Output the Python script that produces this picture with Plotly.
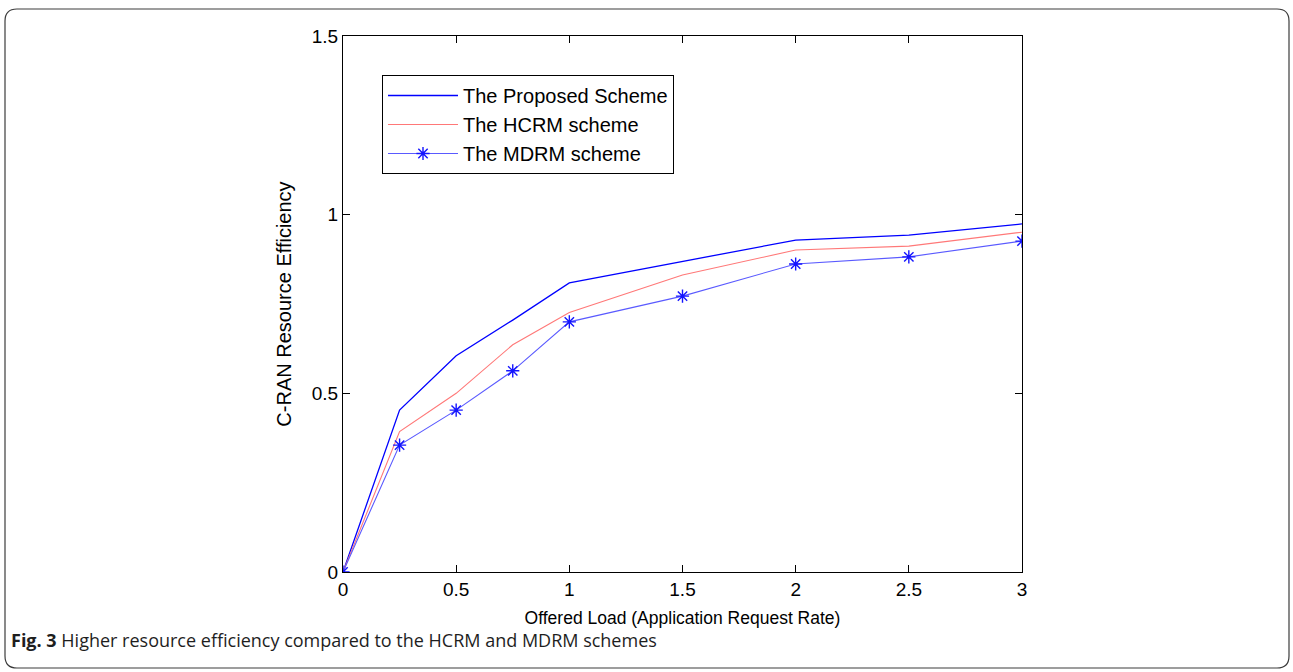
import plotly.graph_objects as go

# ---- data ----
offered_load = [0, 0.25, 0.5, 0.75, 1, 1.5, 2, 2.5, 3]
proposed = [0, 0.453, 0.605, 0.705, 0.809, 0.870, 0.929, 0.943, 0.974]
hcrm = [0, 0.393, 0.500, 0.636, 0.726, 0.831, 0.901, 0.912, 0.951]
mdrm = [0, 0.355, 0.453, 0.563, 0.700, 0.772, 0.862, 0.882, 0.926]

x_ticks = [0, 0.5, 1, 1.5, 2, 2.5, 3]
x_tick_labels = ["0", "0.5", "1", "1.5", "2", "2.5", "3"]
y_ticks = [0, 0.5, 1, 1.5]
y_tick_labels = ["0", "0.5", "1", "1.5"]

W, H = 1293, 672
L, R, T, B = 343, 1022, 36, 572  # plot area in pixels
PW, PH = R - L, B - T


def px(x):
    return (x - L) / PW


def py(y):
    return (B - y) / PH


FONT = "Liberation Sans, Arial, Helvetica, sans-serif"

fig = go.Figure()
fig.add_trace(go.Scatter(
    x=offered_load, y=proposed, mode="lines", name="The Proposed Scheme",
    line=dict(color="rgb(0,0,255)", width=1.3), legendgroup="a"))
fig.add_trace(go.Scatter(
    x=offered_load, y=hcrm, mode="lines", name="The HCRM scheme",
    line=dict(color="rgb(255,120,120)", width=1.1), legendgroup="b"))
fig.add_trace(go.Scatter(
    x=offered_load, y=mdrm, mode="lines+markers", name="The MDRM scheme",
    line=dict(color="rgb(90,90,255)", width=1.1),
    marker=dict(symbol="asterisk-open", size=11, color="rgb(20,20,255)",
                line=dict(color="rgb(20,20,255)", width=1.4)),
    legendgroup="c"))

# rounded outer frame
x0, x1 = px(5), px(1289)
y0, y1 = py(668), py(9)
rx, ry = 12 / PW, 12 / PH
path = (f"M {x0+rx},{y1} L {x1-rx},{y1} Q {x1},{y1} {x1},{y1-ry} "
        f"L {x1},{y0+ry} Q {x1},{y0} {x1-rx},{y0} "
        f"L {x0+rx},{y0} Q {x0},{y0} {x0},{y0+ry} "
        f"L {x0},{y1-ry} Q {x0},{y1} {x0+rx},{y1} Z")

fig.update_layout(
    width=W, height=H,
    margin=dict(l=L, r=W - R, t=T, b=H - B),
    paper_bgcolor="white", plot_bgcolor="white",
    font=dict(family=FONT, size=18, color="black"),
    showlegend=True,
    legend=dict(x=px(382), y=py(75), xanchor="left", yanchor="top",
                bgcolor="white", bordercolor="black", borderwidth=1,
                font=dict(family=FONT, size=20, color="black"),
                traceorder="grouped", tracegroupgap=0,
                itemwidth=70),
    xaxis=dict(range=[0, 3], tickvals=x_ticks, ticktext=x_tick_labels,
               showgrid=False, zeroline=False, showline=True, linecolor="black",
               linewidth=1.2, mirror="ticks", ticks="inside", ticklen=7,
               tickcolor="black", tickfont=dict(size=19),
               title=dict(text="Offered Load (Application Request Rate)",
                          font=dict(size=17.5), standoff=12)),
    yaxis=dict(range=[0, 1.5], tickvals=y_ticks, ticktext=y_tick_labels,
               showgrid=False, zeroline=False, showline=True, linecolor="black",
               linewidth=1.2, mirror="ticks", ticks="inside", ticklen=7,
               tickcolor="black", tickfont=dict(size=19),
               title=dict(text="C-RAN Resource Efficiency",
                          font=dict(size=20), standoff=14)),
    shapes=[dict(type="path", xref="paper", yref="paper", path=path,
                 line=dict(color="rgb(60,60,60)", width=1.2),
                 fillcolor="rgba(0,0,0,0)", layer="below")],
    annotations=[dict(xref="paper", yref="paper", x=px(9), y=py(640),
                      xanchor="left", yanchor="middle", showarrow=False,
                      text="<b>Fig. 3</b> Higher resource efficiency compared to the HCRM and MDRM schemes",
                      font=dict(family="Open Sans, sans-serif", size=18,
                                color="rgb(30,30,30)"))],
)

fig.write_html("out.html")
